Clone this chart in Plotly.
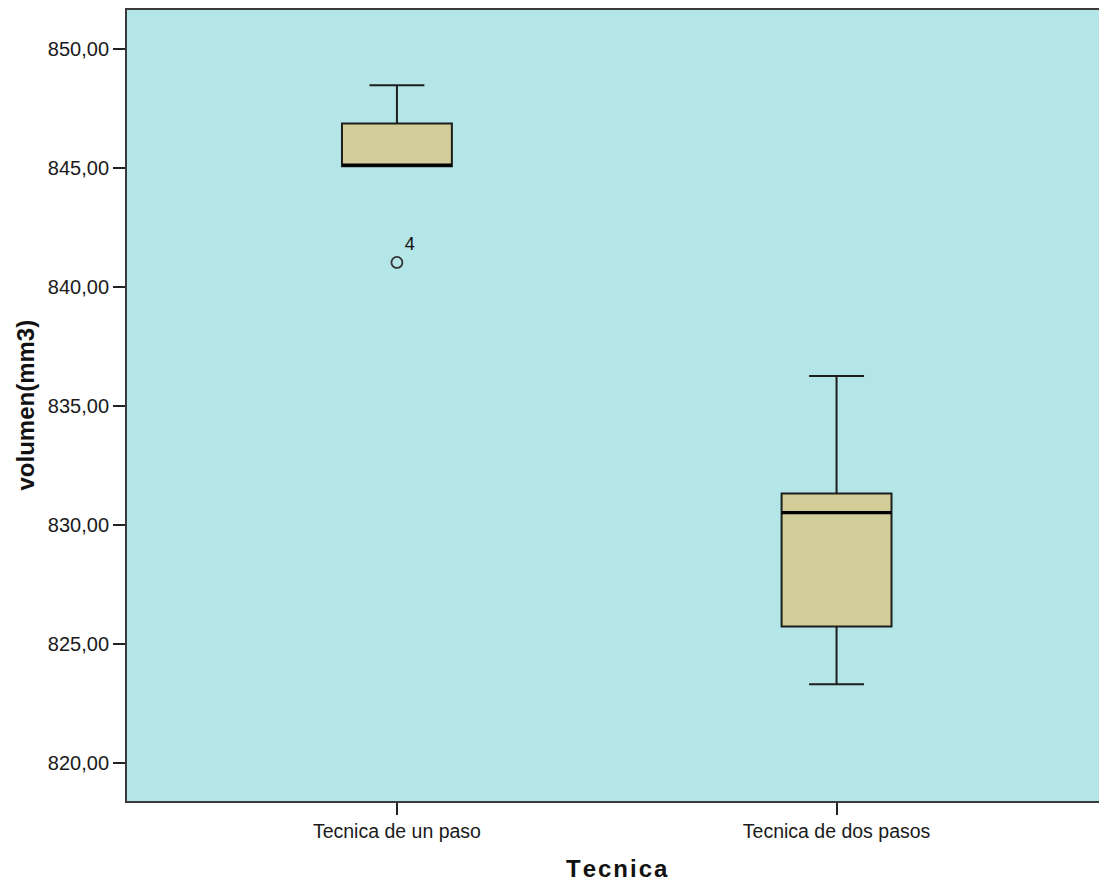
import plotly.graph_objects as go

categories = ["Tecnica de un paso", "Tecnica de dos pasos"]
q1 = [845.08, 825.73]
medians = [845.13, 830.52]
q3 = [846.88, 831.33]
lower_whisker = [845.08, 823.31]
upper_whisker = [848.49, 836.27]

outlier_cat = ["Tecnica de un paso"]
outlier_val = [841.04]
outlier_label = ["4"]

y_ticks = [820, 825, 830, 835, 840, 845, 850]

BG = "#b4e5e7"
BOX = "#d3ce99"
LINE = "#1e1e1e"
FONT = "Liberation Sans, Arial, sans-serif"

fig = go.Figure()

fig.add_trace(go.Box(
    x=categories, q1=q1, median=medians, q3=q3,
    lowerfence=lower_whisker, upperfence=upper_whisker,
    boxpoints=False, fillcolor=BOX, line=dict(color=LINE, width=2),
    whiskerwidth=0.5, width=0.25, showlegend=False, hoverinfo="skip",
))
# thicker median line
fig.add_trace(go.Box(
    x=categories, q1=medians, median=medians, q3=medians,
    lowerfence=medians, upperfence=medians,
    boxpoints=False, fillcolor="rgba(0,0,0,0)", line=dict(color="#000000", width=3.2),
    whiskerwidth=0, width=0.25, showlegend=False, hoverinfo="skip",
))

fig.add_trace(go.Scatter(
    x=outlier_cat, y=outlier_val, mode="markers+text",
    text=outlier_label, textposition="top right",
    textfont=dict(family=FONT, size=18, color="#111"),
    marker=dict(symbol="circle-open", size=11, color="#333", line=dict(width=1.8, color="#333")),
    showlegend=False, hoverinfo="skip", cliponaxis=False,
))

fig.update_layout(
    width=1099, height=883,
    margin=dict(l=127, r=0, t=10, b=82),
    paper_bgcolor="white", plot_bgcolor=BG,
    boxmode="overlay", separators=",.",
    font=dict(family=FONT, size=20, color="#1a1a1a"),
    annotations=[
        dict(text="<b>volumen(mm3)</b>", xref="paper", yref="paper", x=0, y=0.5,
             xanchor="center", yanchor="middle", xshift=-102, textangle=-90,
             showarrow=False, font=dict(family=FONT, size=24, color="#111")),
        dict(text="<b>T\u200ae\u200ac\u200an\u200ai\u200ac\u200aa</b>", xref="paper", yref="paper", x=0.5, y=0,
             xanchor="center", yanchor="middle", yshift=-67, xshift=4,
             showarrow=False, font=dict(family=FONT, size=24, color="#111")),
    ],
)

fig.update_xaxes(
    type="category", categoryorder="array", categoryarray=categories,
    range=[-0.614, 1.597],
    showline=True, linecolor="#3a3a3a", linewidth=2, mirror=True,
    ticks="outside", ticklen=12, tickwidth=1.5, tickcolor="#222",
    showgrid=False, zeroline=False,
    tickfont=dict(family=FONT, size=19.5, color="#1a1a1a"),
)
fig.update_yaxes(
    range=[818.40, 851.65], tickvals=y_ticks, tickformat=".2f",
    showline=True, linecolor="#3a3a3a", linewidth=2, mirror=False,
    ticks="outside", ticklen=12, tickwidth=1.5, tickcolor="#222",
    showgrid=False, zeroline=False,
    tickfont=dict(family=FONT, size=20, color="#1a1a1a"),
)

fig.write_html("out.html", config={"displayModeBar": False},
               post_script="document.body.style.margin='0';document.body.style.overflow='hidden';")
